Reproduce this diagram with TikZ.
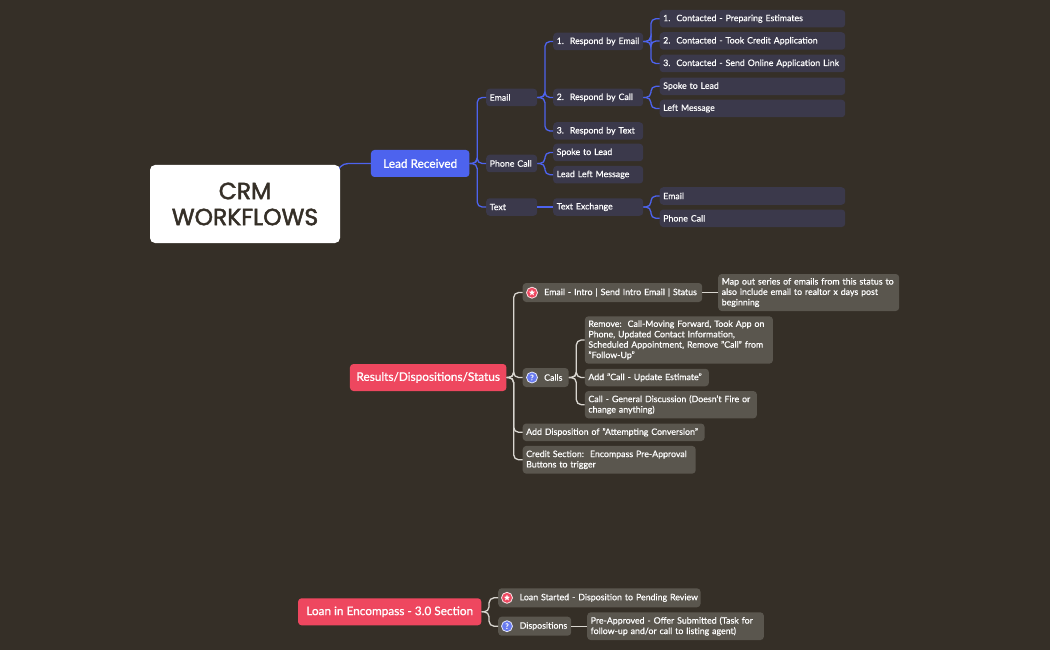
\documentclass[tikz,border=0pt]{standalone}
\usepackage{fontspec}
\setmainfont{Lato}[RawFeature={embolden=0.5}]
\newfontfamily\rootfont{Poppins}[RawFeature={embolden=2}]
\newfontfamily\headfont{Lato}[RawFeature={embolden=1}]
\usetikzlibrary{backgrounds,shapes.geometric}
\definecolor{pagecol}{HTML}{352F27}
\definecolor{leadblue}{HTML}{4D63EE}
\definecolor{statusred}{HTML}{EE475F}
\definecolor{bluefill}{HTML}{3B394B}
\definecolor{greyfill}{HTML}{5A564E}
\definecolor{greyline}{HTML}{D9D6D0}
\tikzset{
	rootbox/.style={fill=white, rounded corners=5pt, minimum width=190pt, minimum height=78pt, inner sep=0pt, align=center, text=pagecol, font=\rootfont\fontsize{23.4}{26}\selectfont},
	headbox/.style={rounded corners=3.5pt, inner sep=0pt, minimum height=27pt, text=white, font=\headfont\fontsize{11.8}{13}\selectfont},
	leaf/.style={anchor=west, rounded corners=3.5pt, inner xsep=3.5pt, inner ysep=0pt, minimum height=17.5pt, align=left, text=white, font=\fontsize{8.8}{10.4}\selectfont},
	bluebox/.style={leaf, fill=bluefill},
	greybox/.style={leaf, fill=greyfill},
	bluelink/.style={draw=leadblue, line width=1.3pt, rounded corners=5pt},
	greylink/.style={draw=greyline, line width=1.3pt, rounded corners=5pt},
	elbow/.style={to path={-- ++(#1,0) |- (\tikztotarget)}},
	elbow/.default=7.5,
	iconmark/.style={circle, line width=0.8pt, minimum size=11pt, inner sep=0pt},
	staricon/.style={iconmark, draw=white!85!statusred, fill=statusred},
	askicon/.style={iconmark, draw=white!85!leadblue, fill=leadblue!85!white, text=white, font=\fontsize{7.5}{7.5}\selectfont}
}
\begin{document}
\begin{tikzpicture}[x=1pt, y=-1pt]
	\useasboundingbox (0, 0) rectangle (1050, 650);
	\begin{scope}[on background layer]
		\fill[pagecol] (0, 0) rectangle (1050, 650);
	\end{scope}

	\node[rootbox] (crm) at (245, 204) {CRM\\WORKFLOWS};

	%%lead received tree
	\node[headbox, fill=leadblue, minimum width=98.5pt] (lead) at (420.2, 163.5) {Lead Received};

	\node[bluebox, text width=44pt] (email) at (486, 97.5) {Email};
	\node[bluebox, text width=44pt] (phone) at (486, 163.5) {Phone Call};
	\node[bluebox, text width=44pt] (text) at (486, 207) {Text};

	\node[bluebox, text width=83pt] (byemail) at (553, 41.5) {\mbox{1.\hspace{6pt}Respond by Email}};
	\node[bluebox, text width=83pt] (bycall) at (553, 97.5) {\mbox{2.\hspace{6pt}Respond by Call}};
	\node[bluebox, text width=83pt] (bytext) at (553, 131) {\mbox{3.\hspace{6pt}Respond by Text}};
	\node[bluebox, text width=83pt] (spoke) at (553, 152.5) {Spoke to Lead};
	\node[bluebox, text width=83pt] (leftmsg) at (553, 174.7) {Lead Left Message};
	\node[bluebox, text width=83pt] (exchange) at (553, 207) {Text Exchange};

	\node[bluebox, text width=178.5pt] (preparing) at (659.5, 18.7) {1.\hspace{6pt}Contacted - Preparing Estimates};
	\node[bluebox, text width=178.5pt] (credit) at (659.5, 41) {2.\hspace{6pt}Contacted - Took Credit Application};
	\node[bluebox, text width=178.5pt] (online) at (659.5, 63.5) {\mbox{3.\hspace{6pt}Contacted - Send Online Application Link}};
	\node[bluebox, text width=178.5pt] (callspoke) at (659.5, 86.3) {Spoke to Lead};
	\node[bluebox, text width=178.5pt] (callleft) at (659.5, 108.5) {Left Message};
	\node[bluebox, text width=178.5pt] (exemail) at (659.5, 196) {Email};
	\node[bluebox, text width=178.5pt] (exphone) at (659.5, 218.3) {Phone Call};

	\begin{scope}[on background layer]
		\draw[bluelink, rounded corners=11pt] ([xshift=-3pt]crm.east) |- (lead.west);
	\end{scope}
	\draw[bluelink] (lead.east) to[elbow] (email.west);
	\draw[bluelink] (lead.east) to[elbow] (phone.west);
	\draw[bluelink] (lead.east) to[elbow] (text.west);

	\draw[bluelink] (email.east) to[elbow] (byemail.west);
	\draw[bluelink] (email.east) to[elbow] (bycall.west);
	\draw[bluelink] (email.east) to[elbow] (bytext.west);
	\draw[bluelink] (phone.east) to[elbow] (spoke.west);
	\draw[bluelink] (phone.east) to[elbow] (leftmsg.west);
	\draw[bluelink] (text.east) to (exchange.west);

	\draw[bluelink] (byemail.east) to[elbow] (preparing.west);
	\draw[bluelink] (byemail.east) to[elbow] (credit.west);
	\draw[bluelink] (byemail.east) to[elbow] (online.west);
	\draw[bluelink] (bycall.east) to[elbow] (callspoke.west);
	\draw[bluelink] (bycall.east) to[elbow] (callleft.west);
	\draw[bluelink] (exchange.east) to[elbow] (exemail.west);
	\draw[bluelink] (exchange.east) to[elbow] (exphone.west);

	%%results tree
	\node[headbox, fill=statusred, minimum width=156.5pt] (results) at (428.2, 377.5) {Results/Dispositions/Status};

	\node[greybox, text width=172.5pt, minimum height=19pt] (intro) at (522.5, 292.5) {\mbox{\hspace*{18pt}Email - Intro | Send Intro Email | Status}};
	\node[greybox, text width=38.9pt, minimum height=19pt] (calls) at (522.5, 377.5) {\mbox{\hspace*{18pt}Calls}};
	\node[greybox, text width=174.9pt] (attempt) at (522.5, 432.3) {\mbox{Add Disposition of "Attempting Conversion"}};
	\node[greybox, text width=166pt, minimum height=27.7pt] (encompass) at (522.5, 459.8) {\mbox{Credit Section:\hspace{6pt}Encompass Pre-Approval}\\Buttons to trigger};

	\node[greybox, text width=174pt, minimum height=37pt] (mapout) at (718, 292.5) {\mbox{Map out series of emails from this status to}\\\mbox{also include email to realtor x days post}\\beginning};
	\node[greybox, text width=181pt, minimum height=47.4pt] (remove) at (584.7, 340) {\mbox{Remove:\hspace{6pt}Call-Moving Forward, Took App on}\\Phone, Updated Contact Information,\\\mbox{Scheduled Appointment, Remove "Call" from}\\"Follow-Up"};
	\node[greybox, text width=117pt] (addcall) at (584.7, 377.5) {\mbox{Add "Call - Update Estimate"}};
	\node[greybox, text width=165pt, minimum height=27.3pt] (general) at (584.7, 404.7) {\mbox{Call - General Discussion (Doesn't Fire or}\\change anything)};

	\node[staricon] (introicon) at (532, 292.7) {};
	\node[star, star points=5, star point ratio=2.4, fill=white, inner sep=0pt, minimum size=6.5pt] (introstar) at (532, 292.7) {};
	\node[askicon] (callsicon) at (532, 377.5) {?};

	\draw[greylink] (results.east) to[elbow=7] (intro.west);
	\draw[greylink] (results.east) to[elbow=7] (calls.west);
	\draw[greylink] (results.east) to[elbow=7] (attempt.west);
	\draw[greylink] (results.east) to[elbow=7] (encompass.west);
	\draw[greylink] (intro.east) to (mapout.west);
	\draw[greylink] (calls.east) to[elbow] (remove.west);
	\draw[greylink] (calls.east) to[elbow] (addcall.west);
	\draw[greylink] (calls.east) to[elbow] (general.west);

	%%loan tree
	\node[headbox, fill=statusred, minimum width=183.3pt] (loan) at (389.7, 611.8) {Loan in Encompass - 3.0 Section};

	\node[greybox, text width=195.3pt, minimum height=19pt] (started) at (498, 597.8) {\mbox{\hspace*{18pt}Loan Started - Disposition to Pending Review}};
	\node[greybox, text width=66pt, minimum height=19pt] (dispo) at (498, 626.2) {\mbox{\hspace*{18pt}Dispositions}};
	\node[greybox, text width=169.7pt, minimum height=27.7pt] (preapp) at (587, 626.2) {\mbox{Pre-Approved - Offer Submitted (Task for}\\\mbox{follow-up and/or call to listing agent)}};

	\node[staricon] (starticon) at (507, 597.8) {};
	\node[star, star points=5, star point ratio=2.4, fill=white, inner sep=0pt, minimum size=6.5pt] (startstar) at (507, 597.8) {};
	\node[askicon] (dispoicon) at (507, 626.2) {?};

	\draw[greylink] (loan.east) to[elbow] (started.west);
	\draw[greylink] (loan.east) to[elbow] (dispo.west);
	\draw[greylink] (dispo.east) to (preapp.west);
\end{tikzpicture}
\end{document}
